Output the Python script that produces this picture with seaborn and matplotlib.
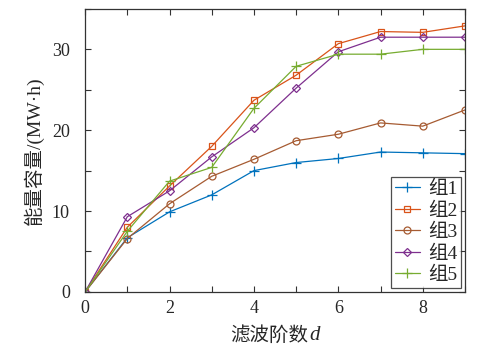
import matplotlib
matplotlib.use("Agg")
import matplotlib.pyplot as plt
import seaborn as sns
import pandas as pd
from matplotlib.ticker import MultipleLocator
from matplotlib.offsetbox import TextArea, HPacker, AnchoredOffsetbox

d = [0, 1, 2, 3, 4, 5, 6, 7, 8, 9]
g1 = [0, 6.7, 9.9, 12.0, 15.0, 16.0, 16.5, 17.3, 17.2, 17.1]
g2 = [0, 8.0, 13.1, 18.0, 23.7, 26.8, 30.7, 32.2, 32.1, 32.9]
g3 = [0, 6.6, 10.9, 14.3, 16.4, 18.7, 19.5, 20.9, 20.5, 22.5]
g4 = [0, 9.3, 12.5, 16.7, 20.3, 25.2, 29.7, 31.5, 31.5, 31.5]
g5 = [0, 7.5, 13.7, 15.4, 22.7, 27.9, 29.4, 29.4, 30.0, 30.0]
names = ["组1", "组2", "组3", "组4", "组5"]
colors = ["#0072BD", "#D95319", "#A65B32", "#7E2F8E", "#77AC30"]
markers = ["+", "s", "o", "D", "+"]
msizes = [7, 4.5, 5, 4.5, 7]

sns.set_style("ticks")
plt.rcParams['font.family'] = ['Liberation Serif', 'Noto Sans CJK SC']

fig = plt.figure(figsize=(4.92, 3.56), dpi=100)
ax = fig.add_axes([0.173, 0.180, 0.772, 0.795])

for vals, nm, c, m, ms in zip([g1, g2, g3, g4, g5], names, colors, markers, msizes):
    df = pd.DataFrame({"d": d, "v": vals})
    sns.lineplot(data=df, x="d", y="v", ax=ax, color=c, marker=m, markersize=ms,
                 markerfacecolor="none", markeredgecolor=c, markeredgewidth=0.9,
                 linewidth=0.9, label=nm)

ax.set_xlim(0, 9)
ax.set_ylim(0, 35)
ax.xaxis.set_major_locator(MultipleLocator(2))
ax.xaxis.set_minor_locator(MultipleLocator(1))
ax.yaxis.set_major_locator(MultipleLocator(10))
ax.yaxis.set_minor_locator(MultipleLocator(5))
ax.tick_params(which="both", direction="in", top=True, right=True, labelsize=13,
               color="#333333", width=0.8, length=4)
ax.tick_params(axis="y", which="major", pad=11)
ax.tick_params(axis="x", which="major", pad=6)
for s in ax.spines.values():
    s.set_linewidth(0.9)
    s.set_color("#333333")

# x label: Chinese text + italic d
ax.set_xlabel("")
t1 = TextArea("滤波阶数", textprops=dict(fontsize=14, family=['Noto Sans CJK SC']))
t2 = TextArea("d", textprops=dict(fontsize=15, style="italic", family=['Liberation Serif']))
pack = HPacker(children=[t1, t2], align="baseline", pad=0, sep=1)
abox = AnchoredOffsetbox(loc="upper center", child=pack, frameon=False,
                         bbox_to_anchor=(0.5, -0.115), bbox_transform=ax.transAxes,
                         borderpad=0, pad=0)
ax.add_artist(abox)

ax.set_ylabel("能量容量/(MW·h)", fontsize=14, labelpad=6)

leg = ax.legend(loc="lower right", fontsize=14, frameon=True, fancybox=False,
                handlelength=1.3, handletextpad=0.4, labelspacing=0.2,
                borderpad=0.2, borderaxespad=0.2)
leg.get_frame().set_edgecolor("#222222")
leg.get_frame().set_linewidth(0.9)

fig.savefig("out.png", dpi=100)
